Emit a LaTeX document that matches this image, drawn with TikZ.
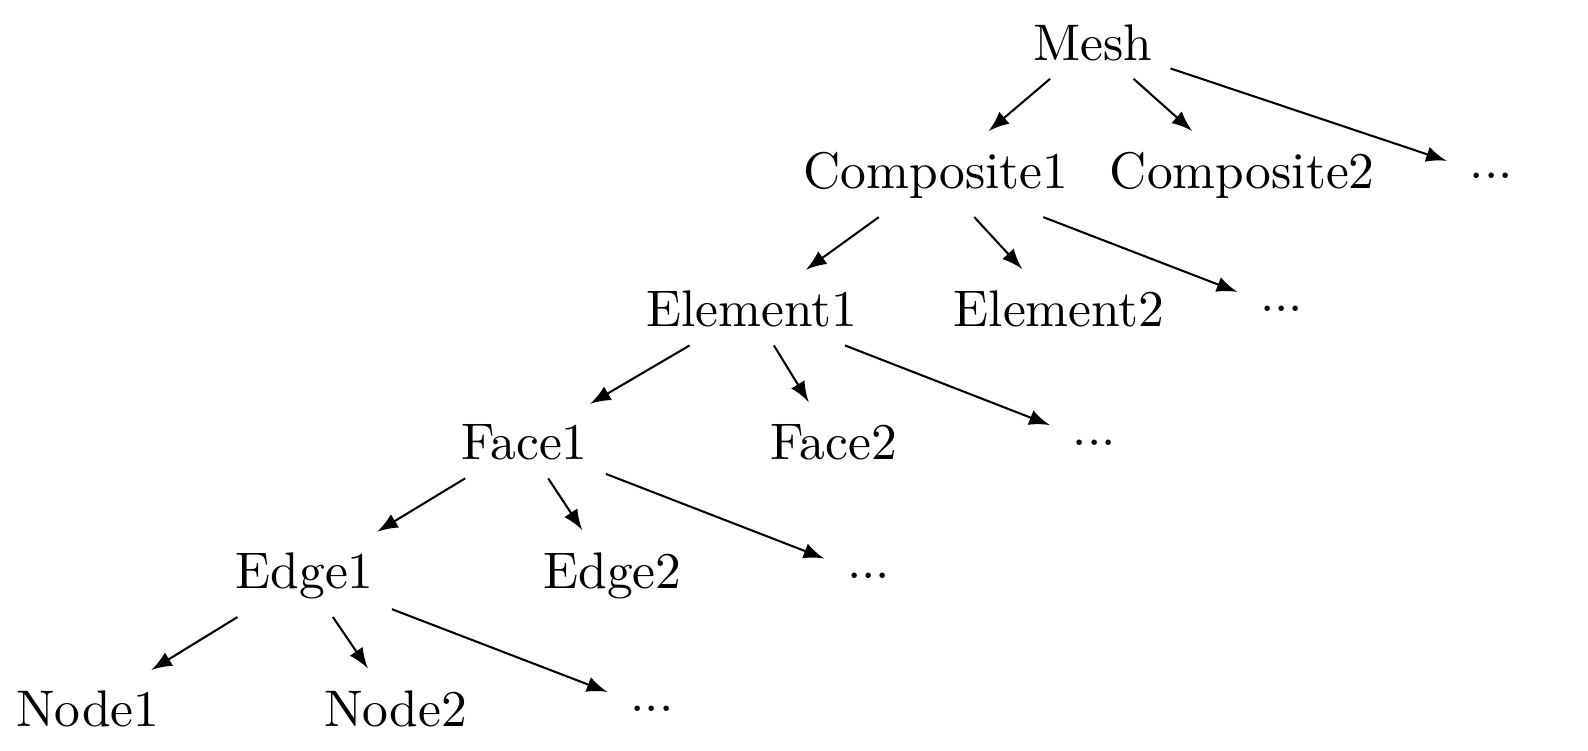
\documentclass[tikz,border=0pt]{standalone}
\usepackage{amsmath}
\usepackage{tikz}
\usetikzlibrary{arrows,positioning}
\tikzstyle{part} = [rectangle, text centered]

\begin{document}
\begin{tikzpicture}[->,>=latex,shorten >=1pt,auto]
  \useasboundingbox (0,0) rectangle (10.84,-5.12);
  % level 0
  \node[part] (mesh) at (7.46,-0.29) {Mesh};
  % level 1
  \node[part] (comp1) at (6.39,-1.20) {Composite1};
  \node[part] (comp2) at (8.48,-1.20) {Composite2};
  \node[part] (dots1) at (10.18,-1.20) {...};
  % level 2
  \node[part] (elem1) at (5.13,-2.11) {Element1};
  \node[part] (elem2) at (7.23,-2.11) {Element2};
  \node[part] (dots2) at (8.75,-2.11) {...};
  % level 3
  \node[part] (face1) at (3.58,-3.02) {Face1};
  \node[part] (face2) at (5.69,-3.02) {Face2};
  \node[part] (dots3) at (7.47,-3.02) {...};
  % level 4
  \node[part] (edge1) at (2.08,-3.93) {Edge1};
  \node[part] (edge2) at (4.18,-3.93) {Edge2};
  \node[part] (dots4) at (5.93,-3.93) {...};
  % level 5
  \node[part] (node1) at (0.60,-4.84) {Node1};
  \node[part] (node2) at (2.70,-4.84) {Node2};
  \node[part] (dots5) at (4.45,-4.84) {...};

  \path (mesh) edge (comp1)
        (mesh) edge (comp2)
        (mesh) edge (dots1)
        (comp1) edge (elem1)
        (comp1) edge (elem2)
        (comp1) edge (dots2)
        (elem1) edge (face1)
        (elem1) edge (face2)
        (elem1) edge (dots3)
        (face1) edge (edge1)
        (face1) edge (edge2)
        (face1) edge (dots4)
        (edge1) edge (node1)
        (edge1) edge (node2)
        (edge1) edge (dots5);
\end{tikzpicture}
\end{document}
